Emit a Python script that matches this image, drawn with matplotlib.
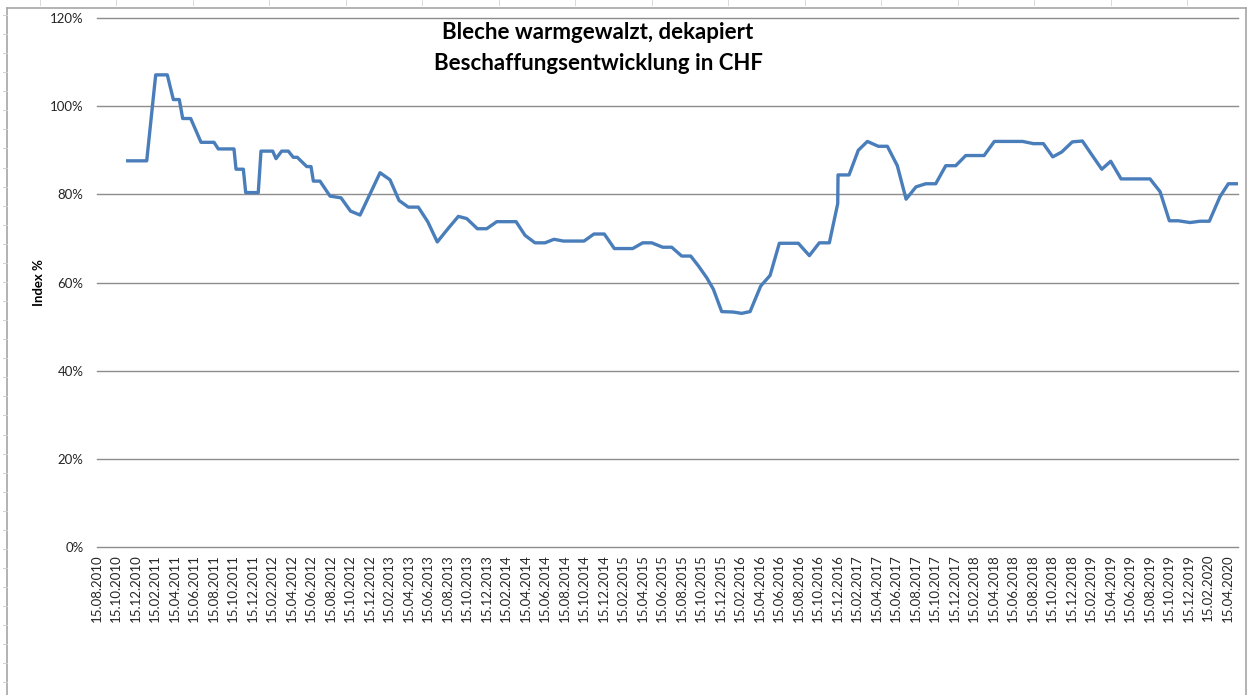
import matplotlib
matplotlib.use('Agg')
import matplotlib.pyplot as plt
from matplotlib.lines import Line2D

plt.rcParams['font.family'] = ['Lato', 'DejaVu Sans']

# Monate nach dem 15.08.2010 (Datumsachse), Index in %
months = [3.18, 5.13, 6.05, 7.24, 7.86, 8.47, 8.82, 9.64, 10.70, 12.03,
          12.47, 14.08, 14.29, 15.04, 15.28, 16.57, 16.85, 18.05, 18.39, 18.97,
          19.65, 20.16, 20.57, 21.54, 21.98, 22.22, 22.90, 23.93, 25.06, 26.03,
          27.01, 29.06, 30.08, 31.01, 31.96, 32.98, 33.95, 34.93, 36.06, 37.09,
          37.95, 39.04, 40.00, 41.03, 43.01, 43.93, 44.95, 45.98, 46.90, 47.86,
          49.98, 51.00, 52.06, 53.09, 54.97, 56.00, 56.92, 58.05, 58.97, 60.00,
          60.92, 61.70, 62.56, 63.24, 64.10, 65.29, 66.15, 67.01, 68.10, 69.06,
          70.01, 71.96, 73.09, 74.11, 75.14, 76.00, 76.03, 77.16, 78.11, 79.04,
          80.16, 81.09, 82.11, 83.01, 84.03, 85.03, 86.05, 87.08, 88.10, 89.13,
          91.01, 92.06, 94.97, 96.06, 97.09, 98.05, 98.97, 100.06, 101.09, 102.11,
          103.08, 104.00, 105.06, 108.03, 109.06, 110.01, 110.93, 112.13, 113.16, 114.11,
          115.21, 116.06, 117.03]
index_pct = [87.6, 87.6, 107.1, 107.1, 101.5, 101.5, 97.2, 97.2, 91.8, 91.8,
             90.3, 90.3, 85.7, 85.7, 80.4, 80.4, 89.8, 89.8, 88.1, 89.8,
             89.8, 88.4, 88.4, 86.3, 86.3, 83.0, 83.0, 79.6, 79.2, 76.2,
             75.3, 84.9, 83.3, 78.6, 77.1, 77.1, 73.8, 69.2, 72.3, 75.0,
             74.5, 72.2, 72.2, 73.8, 73.8, 70.7, 69.0, 69.0, 69.8, 69.4,
             69.4, 71.0, 71.0, 67.7, 67.7, 69.0, 69.0, 68.0, 68.0, 66.0,
             66.0, 63.8, 61.1, 58.5, 53.4, 53.3, 53.0, 53.4, 59.2, 61.6,
             68.9, 68.9, 66.1, 69.0, 69.0, 77.9, 84.4, 84.4, 90.0, 92.0,
             90.9, 90.9, 86.5, 78.9, 81.7, 82.4, 82.4, 86.5, 86.5, 88.8,
             88.8, 92.0, 92.0, 91.5, 91.5, 88.5, 89.6, 91.9, 92.1, 88.8,
             85.7, 87.5, 83.5, 83.5, 80.6, 74.0, 74.0, 73.6, 73.9, 73.9,
             79.5, 82.4, 82.4]

tick_months = list(range(0, 117, 2))
tick_labels = []
for m in tick_months:
    mm = 8 + m
    year = 2010 + (mm - 1) // 12
    mon = (mm - 1) % 12 + 1
    tick_labels.append('15.%02d.%d' % (mon, year))

y_ticks = [0, 20, 40, 60, 80, 100, 120]

W, H = 1247, 695
fig = plt.figure(figsize=(W / 100, H / 100), dpi=100)
ax = fig.add_axes([96.7 / W, 1 - 547 / H, (1237.5 - 96.7) / W, (547 - 18) / H])

ax.plot(months, index_pct, color='#4a7ebb', lw=2.4, solid_joinstyle='round', zorder=3)

ax.set_xlim(0, 117)
ax.set_ylim(0, 120)
ax.set_yticks(y_ticks)
ax.set_yticklabels(['%d%%' % v for v in y_ticks])
ax.set_xticks(tick_months)
ax.set_xticklabels(tick_labels, rotation=90)
ax.tick_params(axis='y', length=0, pad=9.5, labelsize=9.5, labelcolor='#262626')
ax.tick_params(axis='x', length=0, pad=5, labelsize=9.5, labelcolor='#262626')
for lab in ax.get_xticklabels():
    lab.set_verticalalignment('top')
ax.grid(axis='y', color='#8c8c8c', lw=1.0)
ax.grid(axis='x', visible=False)
for s in ax.spines.values():
    s.set_visible(False)
for gl in ax.get_ygridlines():
    gl.set_clip_on(False)

ax.set_ylabel('Index %', fontsize=9.5, fontweight='bold')
ax.yaxis.set_label_coords(-(96.7 - 45) / (1237.5 - 96.7), 0.5)

fig.text(598 / W, 1 - 32.5 / H, 'Bleche warmgewalzt, dekapiert', ha='center', va='center',
         fontsize=16, fontweight='bold', color='black')
fig.text(598 / W, 1 - 63 / H, 'Beschaffungsentwicklung in CHF', ha='center', va='center',
         fontsize=16, fontweight='bold', color='black')

# Rahmen des Diagrammbereichs (Bildschirmfoto)
frame = fig.add_axes([0, 0, 1, 1], zorder=-1)
frame.set_xlim(0, W)
frame.set_ylim(H, 0)
frame.axis('off')
frame.add_line(Line2D([7, 1246], [8, 8], color='#a6a6a6', lw=1.2))
frame.add_line(Line2D([7, 7], [8, H], color='#a6a6a6', lw=1.2))
frame.add_line(Line2D([1246, 1246], [8, H], color='#a6a6a6', lw=1.2))
x = 39.5
while x < W:
    frame.add_line(Line2D([x, x], [0, 5], color='#d9d9d9', lw=0.7))
    x += 76.5
y = 15
while y < H:
    frame.add_line(Line2D([3, 7], [y, y], color='#d0d0d0', lw=0.7))
    y += 19.07

fig.savefig('out.png', dpi=100)
